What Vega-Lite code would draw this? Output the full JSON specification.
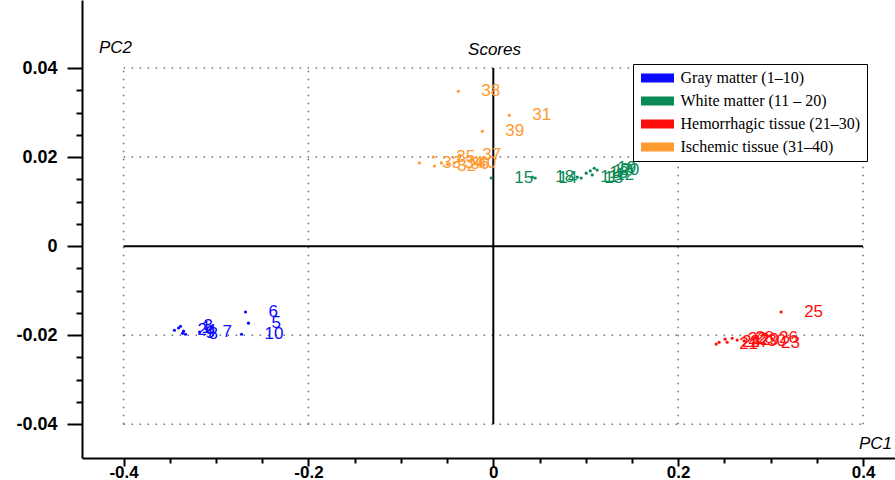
{
  "$schema": "https://vega.github.io/schema/vega-lite/v6.json",
  "width": 813,
  "height": 458,
  "autosize": "none",
  "padding": {"left": 82, "top": 0, "right": 0, "bottom": 22},
  "background": "white",
  "title": {"text": "Scores", "font": "Liberation Sans", "fontSize": 17, "fontStyle": "italic", "fontWeight": "normal", "color": "black", "anchor": "middle", "frame": "group", "offset": 0, "dy": 72, "dx": 6, "baseline": "alphabetic"},
  "datasets": {
    "points": [
      {"id": 1, "group": "Gray matter (1–10)", "pc1": -0.3405, "pc2": -0.0184},
      {"id": 2, "group": "Gray matter (1–10)", "pc1": -0.345, "pc2": -0.0189},
      {"id": 3, "group": "Gray matter (1–10)", "pc1": -0.3384, "pc2": -0.018},
      {"id": 4, "group": "Gray matter (1–10)", "pc1": -0.3351, "pc2": -0.0191},
      {"id": 5, "group": "Gray matter (1–10)", "pc1": -0.2649, "pc2": -0.0173},
      {"id": 6, "group": "Gray matter (1–10)", "pc1": -0.2681, "pc2": -0.0148},
      {"id": 7, "group": "Gray matter (1–10)", "pc1": -0.3178, "pc2": -0.0193},
      {"id": 8, "group": "Gray matter (1–10)", "pc1": -0.333, "pc2": -0.0198},
      {"id": 9, "group": "Gray matter (1–10)", "pc1": -0.3362, "pc2": -0.0196},
      {"id": 10, "group": "Gray matter (1–10)", "pc1": -0.2724, "pc2": -0.0198},
      {"id": 11, "group": "White matter (11 – 20)", "pc1": 0.0908, "pc2": 0.0155},
      {"id": 12, "group": "White matter (11 – 20)", "pc1": 0.107, "pc2": 0.016},
      {"id": 13, "group": "White matter (11 – 20)", "pc1": 0.0951, "pc2": 0.0153},
      {"id": 14, "group": "White matter (11 – 20)", "pc1": 0.0454, "pc2": 0.0153},
      {"id": 15, "group": "White matter (11 – 20)", "pc1": -0.0022, "pc2": 0.0153},
      {"id": 16, "group": "White matter (11 – 20)", "pc1": 0.1005, "pc2": 0.0164},
      {"id": 17, "group": "White matter (11 – 20)", "pc1": 0.1049, "pc2": 0.0169},
      {"id": 18, "group": "White matter (11 – 20)", "pc1": 0.0422, "pc2": 0.0155},
      {"id": 19, "group": "White matter (11 – 20)", "pc1": 0.1092, "pc2": 0.0175},
      {"id": 20, "group": "White matter (11 – 20)", "pc1": 0.1124, "pc2": 0.0171},
      {"id": 21, "group": "Hemorrhagic tissue (21–30)", "pc1": 0.2411, "pc2": -0.022},
      {"id": 22, "group": "Hemorrhagic tissue (21–30)", "pc1": 0.2508, "pc2": -0.0209},
      {"id": 23, "group": "Hemorrhagic tissue (21–30)", "pc1": 0.2865, "pc2": -0.0218},
      {"id": 24, "group": "Hemorrhagic tissue (21–30)", "pc1": 0.2443, "pc2": -0.0216},
      {"id": 25, "group": "Hemorrhagic tissue (21–30)", "pc1": 0.3114, "pc2": -0.0148},
      {"id": 26, "group": "Hemorrhagic tissue (21–30)", "pc1": 0.2843, "pc2": -0.0207},
      {"id": 27, "group": "Hemorrhagic tissue (21–30)", "pc1": 0.253, "pc2": -0.0216},
      {"id": 28, "group": "Hemorrhagic tissue (21–30)", "pc1": 0.2584, "pc2": -0.0207},
      {"id": 29, "group": "Hemorrhagic tissue (21–30)", "pc1": 0.2638, "pc2": -0.0211},
      {"id": 30, "group": "Hemorrhagic tissue (21–30)", "pc1": 0.2714, "pc2": -0.0213},
      {"id": 31, "group": "Ischemic tissue (31–40)", "pc1": 0.0173, "pc2": 0.0294},
      {"id": 32, "group": "Ischemic tissue (31–40)", "pc1": -0.0638, "pc2": 0.018},
      {"id": 33, "group": "Ischemic tissue (31–40)", "pc1": -0.08, "pc2": 0.0187},
      {"id": 34, "group": "Ischemic tissue (31–40)", "pc1": -0.0562, "pc2": 0.0187},
      {"id": 35, "group": "Ischemic tissue (31–40)", "pc1": -0.0649, "pc2": 0.02},
      {"id": 36, "group": "Ischemic tissue (31–40)", "pc1": -0.0497, "pc2": 0.0184},
      {"id": 37, "group": "Ischemic tissue (31–40)", "pc1": -0.0368, "pc2": 0.0204},
      {"id": 38, "group": "Ischemic tissue (31–40)", "pc1": -0.0378, "pc2": 0.0348},
      {"id": 39, "group": "Ischemic tissue (31–40)", "pc1": -0.0119, "pc2": 0.0258},
      {"id": 40, "group": "Ischemic tissue (31–40)", "pc1": -0.0422, "pc2": 0.0187}
    ],
    "vgrid": [{"v": -0.4}, {"v": -0.2}, {"v": 0.2}, {"v": 0.4}],
    "hgrid": [{"v": -0.04}, {"v": -0.02}, {"v": 0.02}, {"v": 0.04}],
    "zero": [{"v": 0}]
  },
  "layer": [
    {
      "data": {"name": "vgrid"},
      "mark": {"type": "rule", "color": "#6e6e6e", "strokeDash": [1.5, 6.5], "strokeWidth": 1.5},
      "encoding": {
        "x": {"field": "v", "type": "quantitative", "scale": {"domain": [-0.445, 0.4346], "nice": false, "zero": false},
          "axis": {"orient": "bottom", "values": [-0.4, -0.2, 0, 0.2, 0.4], "labelExpr": "(datum.value < 0 ? '-' : '') + format(abs(datum.value), '.1~f')", "tickSize": 8, "tickWidth": 2, "domainWidth": 2, "labelPadding": -2, "labelFontSize": 17, "labelFontWeight": "bold", "title": "PC1", "titleX": 793, "titleY": -15, "titleAlign": "center", "titleBaseline": "middle", "titleFontStyle": "italic", "titleFontWeight": "normal", "titleFontSize": 17, "grid": false}},
        "y": {"datum": -0.04, "type": "quantitative", "scale": {"domain": [-0.0476, 0.0553], "nice": false, "zero": false},
          "axis": {"orient": "left", "values": [-0.04, -0.02, 0, 0.02, 0.04], "labelExpr": "(datum.value < 0 ? '-' : '') + format(abs(datum.value), '.2~f')", "tickSize": 15, "tickWidth": 2, "domainWidth": 2, "labelPadding": 10, "labelFontSize": 18, "labelFontWeight": "bold", "title": "PC2", "titleAngle": 0, "titleX": 33, "titleY": 47, "titleAlign": "center", "titleBaseline": "middle", "titleFontStyle": "italic", "titleFontWeight": "normal", "titleFontSize": 17, "grid": false}},
        "y2": {"datum": 0.04}
      }
    },
    {
      "data": {"name": "hgrid"},
      "mark": {"type": "rule", "color": "#6e6e6e", "strokeDash": [1.5, 6.5], "strokeWidth": 1.5},
      "encoding": {
        "y": {"field": "v", "type": "quantitative", "scale": {"domain": [-0.0476, 0.0553], "nice": false, "zero": false},
          "axis": {"orient": "left", "values": [-0.035, -0.03, -0.025, -0.015, -0.01, -0.005, 0.005, 0.01, 0.015, 0.025, 0.03, 0.035], "labels": false, "domain": false, "tickSize": 6, "tickWidth": 2, "title": null, "grid": false}},
        "x": {"datum": -0.4, "type": "quantitative", "scale": {"domain": [-0.445, 0.4346], "nice": false, "zero": false},
          "axis": {"orient": "bottom", "values": [-0.35, -0.3, -0.25, -0.15, -0.1, -0.05, 0.05, 0.1, 0.15, 0.25, 0.3, 0.35], "labels": false, "domain": false, "tickSize": 5, "tickWidth": 2, "title": null, "grid": false}},
        "x2": {"datum": 0.4}
      }
    },
    {
      "data": {"name": "zero"},
      "mark": {"type": "rule", "color": "black", "strokeWidth": 2},
      "encoding": {
        "x": {"field": "v", "type": "quantitative", "axis": null},
        "y": {"datum": -0.04, "type": "quantitative", "axis": null},
        "y2": {"datum": 0.04}
      }
    },
    {
      "data": {"name": "zero"},
      "mark": {"type": "rule", "color": "black", "strokeWidth": 2},
      "encoding": {
        "y": {"field": "v", "type": "quantitative", "axis": null},
        "x": {"datum": -0.4, "type": "quantitative", "axis": null},
        "x2": {"datum": 0.4}
      }
    },
    {
      "data": {"name": "points"},
      "mark": {"type": "point", "filled": true, "size": 10, "shape": "circle", "opacity": 1},
      "encoding": {
        "x": {"field": "pc1", "type": "quantitative", "axis": null},
        "y": {"field": "pc2", "type": "quantitative", "axis": null},
        "color": {"field": "group", "type": "nominal",
          "scale": {"domain": ["Gray matter (1–10)", "White matter (11 – 20)", "Hemorrhagic tissue (21–30)", "Ischemic tissue (31–40)"], "range": ["#0a0aff", "#0a8a55", "#ff0d0d", "#ff9a30"]},
          "legend": {"orient": "none", "legendX": 551, "legendY": 64, "direction": "vertical", "title": null, "padding": 6, "strokeColor": "black", "fillColor": "white", "rowPadding": 7, "symbolType": "M-3.3,-0.9H3.3V0.9H-3.3Z", "symbolSize": 100, "symbolStrokeWidth": 0, "symbolOpacity": 1, "symbolOffset": 10.5, "labelOffset": 15, "labelFont": "Liberation Serif", "labelFontSize": 16, "labelColor": "black", "labelLimit": 0}}
      }
    },
    {
      "data": {"name": "points"},
      "mark": {"type": "text", "align": "left", "baseline": "middle", "dx": 23, "font": "Liberation Sans", "fontSize": 17},
      "encoding": {
        "x": {"field": "pc1", "type": "quantitative", "axis": null},
        "y": {"field": "pc2", "type": "quantitative", "axis": null},
        "text": {"field": "id", "type": "nominal"},
        "color": {"field": "group", "type": "nominal", "legend": null}
      }
    }
  ],
  "resolve": {"axis": {"x": "independent", "y": "independent"}},
  "config": {
    "view": {"stroke": null},
    "axis": {"labelFont": "Liberation Sans", "titleFont": "Liberation Sans", "labelColor": "black", "titleColor": "black", "domainColor": "black", "tickColor": "black"}
  }
}
